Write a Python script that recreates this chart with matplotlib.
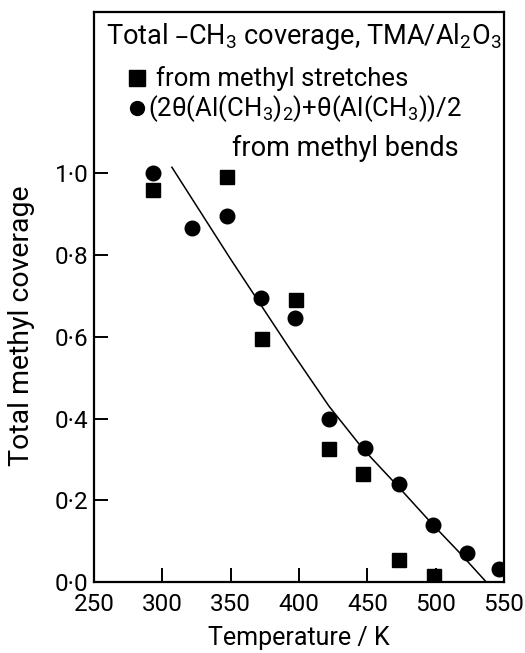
import matplotlib
matplotlib.use("Agg")
import matplotlib.pyplot as plt
from matplotlib.ticker import FixedLocator

plt.rcParams['font.family'] = ['Roboto', 'DejaVu Sans']
plt.rcParams['mathtext.default'] = 'regular'

# squares: from methyl stretches
sq_temp = [293, 347, 373, 398, 422, 447, 473, 499]
sq_cov = [0.96, 0.99, 0.595, 0.69, 0.325, 0.265, 0.055, 0.015]

# circles: from methyl bends
ci_temp = [293, 322, 347, 372, 397, 422, 448, 473, 498, 523, 546]
ci_cov = [1.0, 0.866, 0.895, 0.695, 0.645, 0.398, 0.327, 0.239, 0.14, 0.071, 0.033]

# fitted curve
fit_temp = [307, 350, 394, 422, 447, 473, 498, 518, 537]
fit_cov = [1.015, 0.79, 0.567, 0.43, 0.325, 0.232, 0.14, 0.07, 0.0]

yticks = [0.0, 0.2, 0.4, 0.6, 0.8, 1.0]
ytick_labels = ["0·0", "0·2", "0·4", "0·6", "0·8", "1·0"]
xticks = [250, 300, 350, 400, 450, 500, 550]

fig = plt.figure(figsize=(5.25, 6.53), dpi=100)
ax = fig.add_axes([94/525, 1 - 582/653, 410/525, 570/653])

ax.plot(fit_temp, fit_cov, color='black', lw=1.1)
ax.plot(sq_temp, sq_cov, 's', color='black', ms=10, mec='black')
ax.plot(ci_temp, ci_cov, 'o', color='black', ms=10.5)

ax.set_xlim(250, 550)
ax.set_ylim(0, 1.395)
ax.xaxis.set_major_locator(FixedLocator(xticks))
ax.set_xticklabels([str(t) for t in xticks])
ax.yaxis.set_major_locator(FixedLocator(yticks))
ax.set_yticklabels(ytick_labels)

for s in ax.spines.values():
    s.set_linewidth(1.6)
ax.tick_params(direction='in', length=10, width=1.4, labelsize=17.5, pad=4)
ax.tick_params(axis='x', pad=8)

ax.set_xlabel("Temperature / K", fontsize=18, labelpad=7)
ax.set_ylabel("Total methyl coverage", fontsize=20.5)
ax.yaxis.set_label_coords(-0.145, 0.449)

# legend written as text block, like the original figure
fs = 19.5
ax.text(0.03, 0.985, "Total –CH$_3$ coverage, TMA/Al$_2$O$_3$", transform=ax.transAxes,
        fontsize=fs, va='top', ha='left')
ax.plot([0.106], [0.884], 's', color='black', ms=11, transform=ax.transAxes, clip_on=False)
ax.text(0.152, 0.884, "from methyl stretches", transform=ax.transAxes, fontsize=18.5, va='center')
ax.plot([0.106], [0.831], 'o', color='black', ms=10, transform=ax.transAxes, clip_on=False)
ax.text(0.132, 0.831, "(2θ(Al(CH$_3$)$_2$)+θ(Al(CH$_3$))/2", transform=ax.transAxes,
        fontsize=18.5, va='center')
ax.text(0.337, 0.761, "from methyl bends", transform=ax.transAxes, fontsize=fs, va='center')

fig.savefig("out.png", dpi=100)
